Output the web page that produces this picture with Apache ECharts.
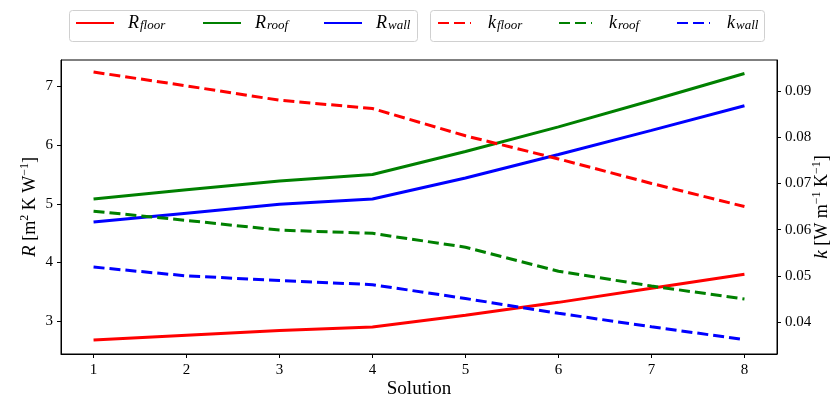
<!DOCTYPE html>
<html>
<head>
<meta charset="utf-8">
<script src="https://cdn.jsdelivr.net/npm/echarts@6/dist/echarts.min.js"></script>
<style>html,body{margin:0;padding:0;background:#fff;}#c{width:836px;height:400px;}</style>
</head>
<body>
<div id="c"></div>
<script>
const solutions = [1, 2, 3, 4, 5, 6, 7, 8];
const R_floor = [2.68, 2.76, 2.84, 2.90, 3.10, 3.32, 3.56, 3.80];
const R_roof  = [5.08, 5.24, 5.39, 5.50, 5.89, 6.31, 6.76, 7.22];
const R_wall  = [4.69, 4.84, 4.99, 5.08, 5.44, 5.84, 6.25, 6.67];
const k_floor = [0.0941, 0.0911, 0.0880, 0.0862, 0.0803, 0.0753, 0.0700, 0.0650];
const k_roof  = [0.0640, 0.0620, 0.0599, 0.0592, 0.0562, 0.0510, 0.0478, 0.0450];
const k_wall  = [0.0519, 0.0500, 0.0490, 0.0481, 0.0451, 0.0419, 0.0390, 0.0362];
const xTicks = [1, 2, 3, 4, 5, 6, 7, 8];
const rTicks = [3, 4, 5, 6, 7];
const kTicks = [0.04, 0.05, 0.06, 0.07, 0.08, 0.09];

const SERIF = '"Liberation Serif", "DejaVu Serif", serif';
const pair = arr => solutions.map((s, i) => [s, arr[i]]);

const seriesDefs = [
  {name: 'R_floor', data: R_floor, color: '#ff0000', dashed: false, axis: 0, sym: 'R', sub: 'floor'},
  {name: 'R_roof',  data: R_roof,  color: '#008000', dashed: false, axis: 0, sym: 'R', sub: 'roof'},
  {name: 'R_wall',  data: R_wall,  color: '#0000ff', dashed: false, axis: 0, sym: 'R', sub: 'wall'},
  {name: 'k_floor', data: k_floor, color: '#ff0000', dashed: true,  axis: 1, sym: 'k', sub: 'floor'},
  {name: 'k_roof',  data: k_roof,  color: '#008000', dashed: true,  axis: 1, sym: 'k', sub: 'roof'},
  {name: 'k_wall',  data: k_wall,  color: '#0000ff', dashed: true,  axis: 1, sym: 'k', sub: 'wall'}
];
const legendLeft = [75, 202, 323, 437, 558, 676];
const legendWidth = [38, 38, 38, 33, 33, 33];

const richLegend = {
  i: {fontFamily: SERIF, fontStyle: 'italic', fontSize: 18, color: '#000', lineHeight: 22, verticalAlign: 'middle'},
  sub: {fontFamily: SERIF, fontStyle: 'italic', fontSize: 13, color: '#000', lineHeight: 22, verticalAlign: 'bottom', padding: [0, 0, 2, 1]}
};

const legends = seriesDefs.map((d, i) => ({
  data: [d.name],
  left: legendLeft[i],
  top: 14,
  padding: 0,
  itemWidth: legendWidth[i],
  itemHeight: 14,
  itemStyle: {opacity: 0},
  formatter: () => '{i|' + d.sym + '}{sub|' + d.sub + '}',
  textStyle: {padding: [0, 0, 0, d.dashed ? 12 : 9], rich: richLegend}
}));

const richName = {
  i: {fontFamily: SERIF, fontStyle: 'italic', fontSize: 19, color: '#000', lineHeight: 24, verticalAlign: 'middle'},
  n: {fontFamily: SERIF, fontSize: 18, color: '#000', lineHeight: 24, verticalAlign: 'middle'},
  s: {fontFamily: SERIF, fontSize: 12, color: '#000', lineHeight: 24, verticalAlign: 'top', padding: [1, 0, 0, 0]}
};

const tickStyle = {show: true, inside: false, length: 4, lineStyle: {color: '#000', width: 1}};
const labelStyle = {fontFamily: SERIF, fontSize: 15, color: '#000'};

const option = {
  animation: false,
  backgroundColor: '#fff',
  graphic: [
    {type: 'rect', left: 69, top: 10, shape: {width: 348, height: 31, r: 3}, style: {fill: '#fff', stroke: '#d0d0d0', lineWidth: 1}, z: -1},
    {type: 'rect', left: 430, top: 10, shape: {width: 334, height: 31, r: 3}, style: {fill: '#fff', stroke: '#d0d0d0', lineWidth: 1}, z: -1}
  ],
  legend: legends,
  grid: {left: 61, right: 59, top: 60, bottom: 46, show: true, borderColor: '#000', borderWidth: 1, backgroundColor: 'transparent', containLabel: false, outerBoundsMode: 'none'},
  xAxis: {
    type: 'value', min: 0.65, max: 8.35,
    name: 'Solution', nameLocation: 'middle', nameGap: 26, nameMoveOverlap: false,
    nameTextStyle: {fontFamily: SERIF, fontSize: 19, color: '#000'},
    axisLine: {show: true, onZero: false, lineStyle: {color: '#000', width: 1}},
    axisTick: Object.assign({customValues: xTicks}, tickStyle),
    axisLabel: Object.assign({customValues: xTicks, margin: 9}, labelStyle),
    splitLine: {show: false}
  },
  yAxis: [
    {
      type: 'value', min: 2.44, max: 7.45, position: 'left',
      name: '{i|R}{n| [m}{s|2}{n| K W}{s|−1}{n|]}', nameLocation: 'middle', nameRotate: 90, nameGap: 19, nameMoveOverlap: false,
      nameTextStyle: {rich: richName},
      axisLine: {show: true, onZero: false, lineStyle: {color: '#000', width: 1}},
      axisTick: Object.assign({customValues: rTicks}, tickStyle),
      axisLabel: Object.assign({customValues: rTicks, margin: 8}, labelStyle),
      splitLine: {show: false}
    },
    {
      type: 'value', min: 0.0331, max: 0.0967, position: 'right',
      name: '{i|k}{n| [W m}{s|−1}{n| K}{s|−1}{n|]}', nameLocation: 'middle', nameRotate: 90, nameGap: 33, nameMoveOverlap: false,
      nameTextStyle: {rich: richName},
      axisLine: {show: true, onZero: false, lineStyle: {color: '#000', width: 1}},
      axisTick: Object.assign({customValues: kTicks}, tickStyle),
      axisLabel: Object.assign({customValues: kTicks, margin: 8, formatter: v => v.toFixed(2)}, labelStyle),
      splitLine: {show: false}
    }
  ],
  series: seriesDefs.map(d => ({
    name: d.name,
    type: 'line',
    yAxisIndex: d.axis,
    data: pair(d.data),
    showSymbol: false,
    symbol: 'none',
    color: d.color,
    lineStyle: {color: d.color, width: 3, type: d.dashed ? [11, 5] : 'solid', cap: 'butt'},
    emphasis: {disabled: true}
  }))
};

const chart = echarts.init(document.getElementById('c'), null, {renderer: 'canvas'});
chart.setOption(option);
</script>
</body>
</html>
